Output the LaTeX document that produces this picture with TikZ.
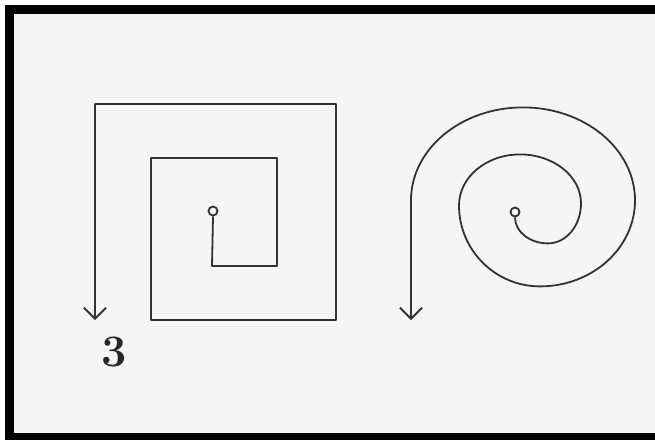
\documentclass[tikz,border=0pt]{standalone}
\usetikzlibrary{arrows.meta}

\tikzset{
	pen/.style={line width=1.8pt, color=black!80, line join=round},
	barb/.style={-{Straight Barb[length=11pt,width=22pt,line width=1.8pt]}},
	hub/.style={circle, draw=black!80, line width=1.8pt, minimum size=9pt, inner sep=0pt},
}

\begin{document}
\begin{tikzpicture}[x=1pt, y=-1pt]
	\useasboundingbox (0,0) rectangle (655,440);
	% paper and the dark frame (cut off on the right)
	\fill[white] (0,0) rectangle (655,440);
	\fill[black!4] (14,14) rectangle (655,433);
	\fill[black] (5,5) rectangle (655,14);
	\fill[black] (5,5) rectangle (14,440);
	\fill[black] (5,433) rectangle (655,440);
	% square spiral
	\node[hub] (sqcentre) at (213,211) {};
	\coordinate (sqend) at (95,320);
	\draw[pen, barb] (sqcentre.south) -- (212,266) -- (277,266) -- (277,158)
		-- (151,158) -- (151,320) -- (336,320) -- (336,104) -- (95,104) -- (sqend);
	\node[font=\fontsize{45}{45}\selectfont\bfseries, text=black!85] (fignum) at (114,352) {3};
	% round spiral, quarter by quarter (y points down)
	\node[hub] (spcentre) at (515,212) {};
	\coordinate (spend) at (411,320);
	\draw[pen, barb] (spcentre.south)
		arc[start angle=180, end angle=90, x radius=33, y radius=26]
		arc[start angle=90, end angle=0, x radius=33, y radius=40]
		arc[start angle=0, end angle=-90, x radius=61, y radius=49]
		arc[start angle=-90, end angle=-180, x radius=61, y radius=51]
		arc[start angle=180, end angle=90, x radius=81, y radius=81]
		arc[start angle=90, end angle=0, x radius=95, y radius=86]
		arc[start angle=0, end angle=-90, x radius=112, y radius=93]
		arc[start angle=-90, end angle=-180, x radius=112, y radius=93]
		-- (spend);
\end{tikzpicture}
\end{document}
